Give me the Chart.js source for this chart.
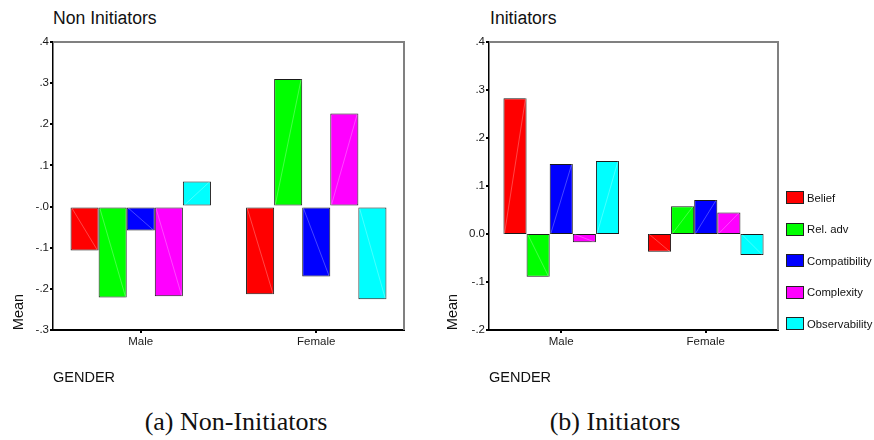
<!DOCTYPE html>
<html>
<head>
<meta charset="utf-8">
<script src="https://cdn.jsdelivr.net/npm/chart.js@4.4.1/dist/chart.umd.min.js"></script>
<style>
  html, body { margin: 0; padding: 0; background: #fff; }
  #wrap { position: relative; width: 874px; height: 440px; overflow: hidden; font-family: "Liberation Sans", Arial, sans-serif; color: #111; }
  .box { position: absolute; }
  .txt { position: absolute; white-space: nowrap; line-height: 1; }
  .title { font-size: 17.6px; }
  .axisname { font-size: 14.5px; }
  .mean { font-size: 14.5px; transform: translate(-50%, -50%) rotate(-90deg); }
  .caption { font-family: "Liberation Serif", "Times New Roman", serif; font-size: 26px; transform: translateX(-50%); }
  #legend { position: absolute; left: 786px; top: 191px; }
  .lg { display: flex; align-items: center; height: 13px; margin-bottom: 18.5px; font-size: 11.3px; }
  .lg span.sw { display: inline-block; width: 16px; height: 11px; border: 1px solid #222; margin-right: 3px; }
</style>
</head>
<body>
<div id="wrap">
  <div class="txt title" style="left:53px; top:10px;">Non Initiators</div>
  <div class="txt title" style="left:490px; top:10px;">Initiators</div>

  <div class="box" style="left:0; top:0; width:440px; height:360px;"><canvas id="chartNon"></canvas></div>
  <div class="box" style="left:440px; top:0; width:434px; height:360px;"><canvas id="chartIni"></canvas></div>

  <div class="txt mean" style="left:18px; top:312px;">Mean</div>
  <div class="txt mean" style="left:452px; top:312px;">Mean</div>

  <div class="txt axisname" style="left:53px; top:370px;">GENDER</div>
  <div class="txt axisname" style="left:489px; top:370px;">GENDER</div>

  <div id="legend"></div>

  <div class="txt caption" style="left:236px; top:409px;">(a) Non-Initiators</div>
  <div class="txt caption" style="left:615px; top:409px;">(b) Initiators</div>
</div>

<script>
// categorias y series
const genders = ["Male", "Female"];
const factors = ["Belief", "Rel. adv", "Compatibility", "Complexity", "Observability"];
const colores = ["#ff0000", "#00ff00", "#0000ff", "#ff00ff", "#00ffff"];

// medias por factor: [Male, Female]
const nonBelief = [-0.107, -0.213];
const nonRelAdv = [-0.221, 0.310];
const nonCompat = [-0.058, -0.170];
const nonComplex = [-0.218, 0.226];
const nonObserv = [0.061, -0.225];

const iniBelief = [0.283, -0.037];
const iniRelAdv = [-0.089, 0.058];
const iniCompat = [0.146, 0.071];
const iniComplex = [-0.017, 0.045];
const iniObserv = [0.152, -0.044];

// etiquetas del eje Y (estilo SPSS)
const nonTicks = { 4: ".4", 3: ".3", 2: ".2", 1: ".1", 0: "-.0", "-1": "-.1", "-2": "-.2", "-3": "-.3" };
const iniTicks = { 4: ".4", 3: ".3", 2: ".2", 1: ".1", 0: "0.0", "-1": "-.1", "-2": "-.2" };

const FONT = "'Liberation Sans', Arial, sans-serif";

// linea diagonal clara dentro de cada barra + marco gris arriba/derecha
const barDecor = {
  id: "barDecor",
  afterDatasetsDraw(chart) {
    const ctx = chart.ctx;
    ctx.save();
    ctx.strokeStyle = "rgba(255,255,255,0.35)";
    ctx.lineWidth = 0.8;
    chart.data.datasets.forEach((ds, i) => {
      chart.getDatasetMeta(i).data.forEach(bar => {
        const { x, y, base, width } = bar.getProps(["x", "y", "base", "width"], true);
        ctx.beginPath();
        ctx.moveTo(x - width / 2 + 1, base);
        ctx.lineTo(x + width / 2 - 1, y);
        ctx.stroke();
      });
    });
    ctx.restore();
  },
  afterDraw(chart) {
    const { left, top, right, bottom } = chart.chartArea;
    const ctx = chart.ctx;
    ctx.save();
    ctx.strokeStyle = "#808080";
    ctx.lineWidth = 2;
    ctx.beginPath();
    ctx.moveTo(left, top);
    ctx.lineTo(right, top);
    ctx.lineTo(right, bottom);
    ctx.stroke();
    ctx.restore();
  }
};

function makeDatasets(series) {
  return series.map((vals, i) => ({
    label: factors[i],
    data: vals,
    backgroundColor: colores[i],
    borderColor: "#1a1a1a",
    borderWidth: 1,
    borderSkipped: false,
    categoryPercentage: 0.8,
    barPercentage: 1.0
  }));
}

function makeChart(id, series, yMin, yMax, tickMap, axisW, padRight) {
  return new Chart(document.getElementById(id), {
    type: "bar",
    data: { labels: genders, datasets: makeDatasets(series) },
    options: {
      responsive: true,
      maintainAspectRatio: false,
      animation: false,
      layout: { padding: { left: 0, top: 42, right: padRight, bottom: 0 } },
      plugins: { legend: { display: false }, tooltip: { enabled: false } },
      scales: {
        x: {
          grid: { offset: false, drawOnChartArea: false, drawTicks: true, tickLength: 3, color: "#000", lineWidth: 2 },
          border: { display: true, color: "#000", width: 2 },
          ticks: { color: "#1a1a1a", font: { family: FONT, size: 11.5 }, padding: 2 },
          afterFit: s => { s.height = 30; }
        },
        y: {
          min: yMin, max: yMax,
          grid: { drawOnChartArea: false, drawTicks: true, tickLength: 3, color: "#000", lineWidth: 2 },
          border: { display: true, color: "#000", width: 1.5 },
          ticks: {
            stepSize: 0.1,
            color: "#1a1a1a",
            font: { family: FONT, size: 11.5 },
            padding: 1,
            callback: v => tickMap[Math.round(v * 10)] ?? ""
          },
          afterFit: s => { s.width = axisW; }
        }
      }
    },
    plugins: [barDecor]
  });
}

makeChart("chartNon", [nonBelief, nonRelAdv, nonCompat, nonComplex, nonObserv], -0.3, 0.4, nonTicks, 53, 36);
makeChart("chartIni", [iniBelief, iniRelAdv, iniCompat, iniComplex, iniObserv], -0.2, 0.4, iniTicks, 49, 96);

// leyenda
const legend = document.getElementById("legend");
factors.forEach((f, i) => {
  const row = document.createElement("div");
  row.className = "lg";
  row.innerHTML = `<span class="sw" style="background:${colores[i]}"></span>${f}`;
  legend.appendChild(row);
});
</script>
</body>
</html>
